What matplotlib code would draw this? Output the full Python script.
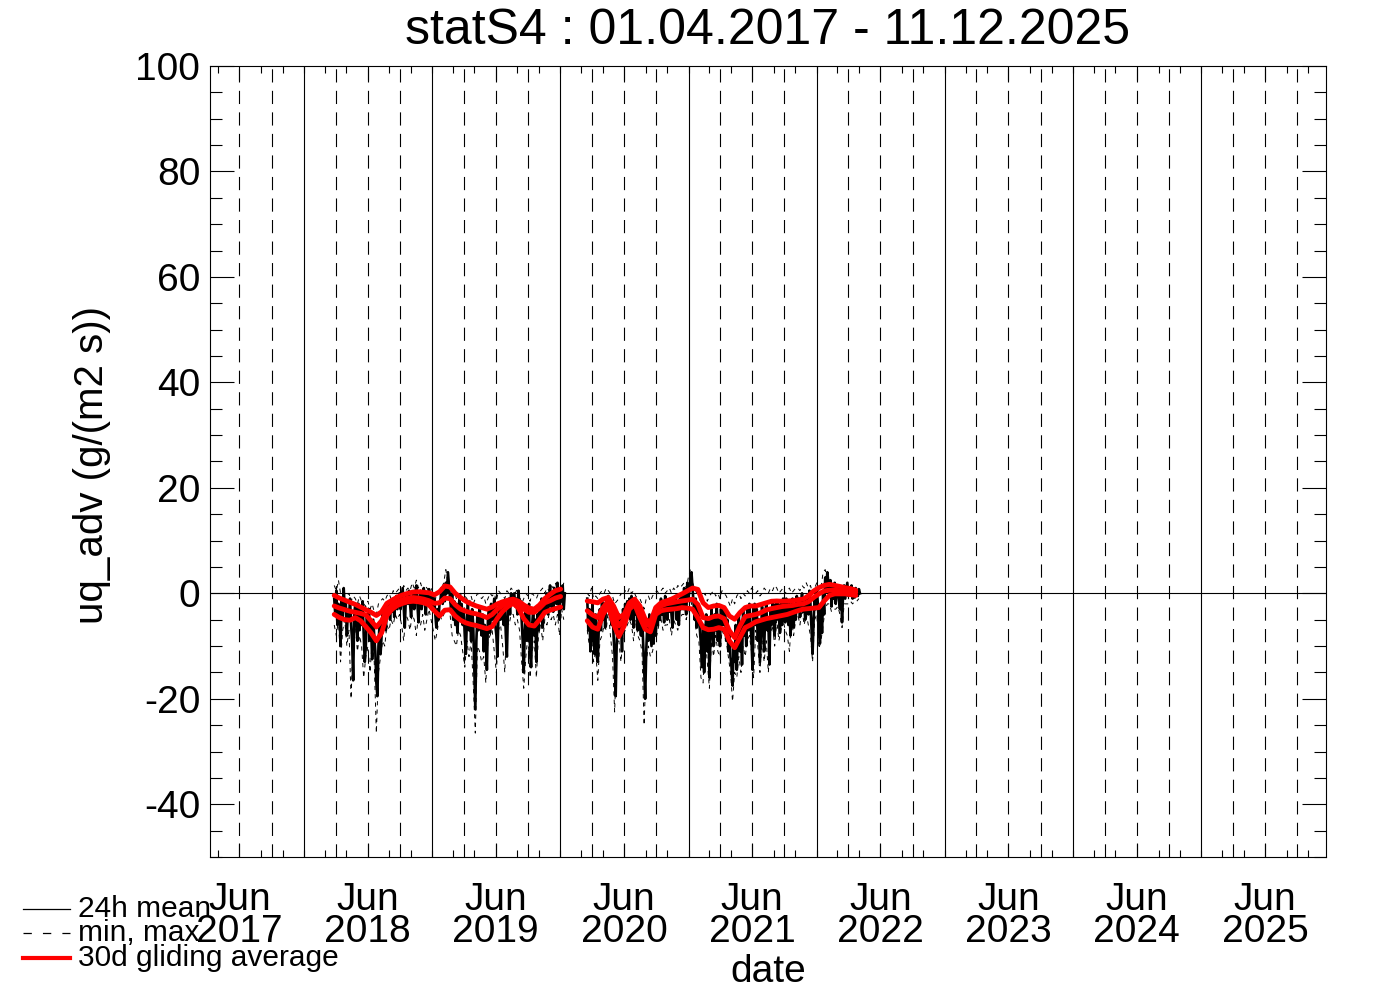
import matplotlib
matplotlib.use("Agg")
import matplotlib.pyplot as plt
import matplotlib.dates as mdates
from matplotlib.lines import Line2D
from matplotlib.ticker import MultipleLocator
import pandas as pd

plt.rcParams["font.family"] = ["Liberation Sans", "DejaVu Sans"]
plt.rcParams["lines.scale_dashes"] = False
plt.rcParams["axes.unicode_minus"] = False

W, H = 1388, 992

TITLE = "statS4 : 01.04.2017 - 11.12.2025"
YLABEL = "uq_adv (g/(m2 s))"

# two measurement periods
SEG1_START = "2018-03-28"
SEG2_START = "2020-03-18"
MEAN_STEP = "3D"     # spacing of the 24h mean values
MINMAX_STEP = "6D"
RED_STEP = "15D"

# 24h mean, period 1 (Apr 2018 - Jan 2020)
mean1 = [
    -1, -4, 0.5, -6, -2, -3, -10, -1.5, -5, 1, -3,
    -2, -8, -3, -5, -1, -6, -9, -16.5, -4, -2,
    -5, -9, -2, -7, -3, -6, -1.5, -8, -13, -10,
    -4, -7, -3, -9, -6, -12.5, -5, -8, -11, -17,
    -19.5, -10, -6, -11.5, -8, -4, -6, -3, -7, -2.5,
    -4, -1.5, -5, -2, -3.5, -1, -4.5, -2, -0.5, -3,
    -1.5, 0, -3, -1, 1, -2.5, -6.5, -1, -0.5, -2,
    0.5, -2, -4.5, -1, 0, -3, -0.5, 1.5, -2, -5.5,
    -1, 0.5, -3, -1.5, 1, -0.5, -4, 0, -2, 0.8,
    -1, -3, 0, -2.5, -1, -4, -6.5, -3, -5, -2,
    -1, 1, -2, 0.5, -1.5, 2, 0, 4, 1.5, -1,
    -3, 0, -5, -1.5, -6, -2, -7.5, -3, -1, -4.5,
    -2, -6, -3.5, -8, -11.5, -5, -2, -7, -4, -9,
    -3, -6, -14, -22, -9, -4, -7, -2.5, -5, -8,
    -4, -11, -6, -9, -14.5, -5, -3, -7.5, -2, -5,
    -3.5, -1, -6, -8, -12, -4, -2, -5, -1.5, -3,
    -6, -2.5, -8, -12, -3, -1, -4, 0, -2, -1,
    0, -2.5, -1, -4, 0.5, -3, -1.5, -5, -9, -15,
    -7, -3, -9, -5, -2, -11, -14, -6, -3, -8,
    -5, -13, -4, -7, -2, -5, -1, -6.5, -3, -1.5,
    -3, 0, -4, -1, 1.5, -2.5, 0, -3.5, 1, -1,
    -2, 2, -1, -5, 0.5, -1.5, 1.5, -3, 0,
]
min1 = [
    -6, -8, -5, -13, -7,
    -5, -10, -7, -20, -8,
    -6, -11, -8, -10, -16,
    -12, -10, -15, -9, -13,
    -26.5, -15, -12, -9, -10,
    -6, -7, -5, -6, -4,
    -5, -4, -6, -9, -4,
    -5, -7, -4, -5, -8,
    -4, -6, -4, -7, -5,
    -3, -5, -7, -9, -7,
    -4, -5, -4, -3, -3,
    -4, -8, -9, -10, -7,
    -8, -11, -14, -9, -12,
    -9, -17, -26.5, -10, -11,
    -13, -12, -17, -9, -8,
    -7, -11, -15, -7, -6,
    -10, -15, -5, -6, -4,
    -4, -6, -5, -7, -13,
    -18, -12, -8, -16, -11,
    -9, -16, -8, -6, -9,
    -5, -6, -4, -5, -4,
    -6, -4, -8, -3, -5,
]
max1 = [
    1.5, 0.5, 2.5, 0, 0.5,
    0, -0.5, 0, -1.5, -0.5,
    -1, -2, -0.5, -1.5, -2,
    -2.5, -1.5, -3, -2, -3.5,
    -4, -2, -1.5, -1, -1.5,
    -0.5, 0, -1, 0.5, 0,
    0.5, 1, 0, 1.5, 0.5,
    1, 0.5, 2, 1, 2.5,
    1, 2, 0.5, 1.5, 1,
    0.5, 1, 0, -1, -0.5,
    0.5, 1, 2, 4.5, 2,
    1, 0, 0.5, -1, -0.5,
    0, -1.5, -0.5, -1, -2,
    -0.5, -2, -1, 0, -0.5,
    -1, -0.5, -2, -1, 0,
    -0.5, 0, -1.5, 0.5, 0,
    -0.5, -1, 0.5, 0, 1,
    0.5, 0, 1, -0.5, -2,
    -1, 0, -0.5, -1.5, 0,
    -0.5, -1, 0, 0.5, 1,
    0, 1, 0.5, 1.5, 1,
    2, 0.5, 1, 0, 2,
]
# 30d gliding averages (upper / middle / lower), period 1
red_up1 = [-0.4, -0.9, -1.3, -1.7, -2.1, -2.6, -3.1, -3.6, -4.2, -3.5, -1.9,
           -1.3, -0.7, -0.3, 0.0, 0.25, 0.3, 0.2, 0.1, -0.3, 0.3, 1.4, 1.2,
           0.0, -0.8, -1.5, -2.0, -2.4, -2.7, -3.0, -2.6, -2.0, -1.6, -1.3,
           -1.1, -1.5, -2.2, -2.8, -3.0, -2.2, -1.0, -0.2, 0.5, 0.8]
red_mid1 = [-2.4, -2.8, -3.1, -3.4, -3.6, -3.8, -4.1, -5.2, -6.4, -5.2, -3.2,
            -2.2, -1.6, -1.2, -0.9, -0.8, -0.9, -1.1, -1.4, -1.9, -1.8, -0.9,
            -1.0, -2.2, -3.0, -3.4, -3.7, -3.9, -4.2, -4.6, -4.0, -3.0, -2.3,
            -1.7, -1.5, -2.0, -3.0, -3.6, -3.6, -2.8, -1.8, -1.4, -0.9, -0.6]
red_lo1 = [-4.0, -4.6, -5.0, -5.1, -4.6, -5.2, -6.3, -7.5, -9.0, -7.5, -4.2,
           -3.0, -2.3, -1.9, -1.6, -1.5, -1.6, -1.8, -2.2, -3.3, -4.3, -3.2,
           -3.1, -4.3, -5.1, -5.6, -5.9, -6.1, -6.4, -6.7, -6.3, -4.7, -3.4,
           -2.5, -1.9, -2.8, -4.8, -6.0, -6.2, -5.0, -3.6, -3.2, -2.9, -2.6]

# 24h mean, period 2 (Mar 2020 - May 2022)
mean2 = [
    -1, -7, -3, -11, -5, -2, -9, -11.5, -4, -8,
    -13, -6, -3, -7, -1.5, -5, -2, -6.5, -1, -3,
    -0.5, -4, -2, -6, -3, -8, -12, -19.5, -9, -6,
    -4, -8, -5, -11, -3, -6, -2, -5, -1.5, -4,
    -1, -5, -0.5, -3, -6.5, -1, -4, -2, -7, -3,
    -5, -8, -3, -9, -14, -20, -11, -6, -9, -4,
    -7, -10, -5, -9.5, -3, -8, -4, -6, -2, -5,
    -1, -4, -2, -5.5, -0.5, -3, -5, -1.5, -3.5, -1,
    -4, -6.5, -1.5, -3, -0.5, -5, -2, -6, -1, -3,
    0, -3, 1, -2.5, -4, 2, -1, 0.5, 3, 4,
    1, -2, -5, -1, -6.5, -3, -4, -7, -10, -14,
    -6, -15, -8, -4, -11, -5, -16, -9, -3, -7,
    -10, -4, -7, -2, -9, -5, -10, -3, -6, -2.5,
    -6, -3, -9, -5, -11, -7, -12, -14, -17.5, -10,
    -13, -6, -14.5, -8, -4, -11, -6, -13.5, -3, -8,
    -5, -10, -3, -7, -2, -6, -9, -14.5, -4, -2,
    -6, -3, -9, -5, -13, -8, -2.5, -6, -11, -4,
    -2, -7, -5, -13.5, -3, -6, -1.5, -4, -8, -2,
    -5, -1.5, -4, -7.5, -2, -6, -1, -3.5, -5.5, -1,
    -3, -6, -2, -8, -4, -1, -6.5, -2, -5, -0.5,
    -3, -1, -4.5, -2, 0, -3.5, -1.5, -5, -0.5, -2,
    -4, 0.5, -2, -7, -11.5, -5, -1, -3, 1, -2,
    -6, -9.5, -3, -7.5, 0, -4, 3, 1, 4, 2,
    0, 2.5, -2.5, 1, -1, 2, -2, 0.5, 1.5, -1,
    -3, 1, -5.5, 0, 1.5, -1, 0.5, 2, -0.5, 1,
    0, 1.5, -1, 0.5, -0.8, 1, 0, -0.5, 0.8, 0,
]
min2 = [
    -7, -10, -8, -13, -11,
    -16.5, -9, -8, -6, -7,
    -3, -8, -12, -22.5, -10,
    -9, -13, -8, -7, -6,
    -5, -6, -9, -5, -8,
    -9, -11, -25, -13, -10,
    -12, -11, -9, -8, -6,
    -5, -7, -6, -6, -5,
    -8, -5, -6, -7, -5,
    -4, -4, -5, -3, -1,
    -3, -5, -8, -9, -16,
    -17, -8, -13, -18, -9,
    -12, -8, -11, -12, -7,
    -8, -9, -12, -15, -20.5,
    -15, -16, -12, -15, -10,
    -12, -9, -8, -11, -16,
    -7, -10, -15, -9, -13,
    -9, -15, -8, -6, -10,
    -5, -9, -7, -5, -7,
    -8, -11, -5, -8, -5,
    -4, -6, -3, -6, -4,
    -6, -8, -13, -5, -4,
    -10.5, -9, -6, -3, -2,
    -2, -3.5, -3, -3, -2.5,
    -4, -6.5, -2, -2, -2,
    -1.5, -2, -1.5, -1.5, -1,
]
max2 = [
    0, -0.5, 1, -1, -0.5,
    -1, 0, 0.5, 0, 1,
    0.5, 0, -0.5, -2, -1.5,
    -1, 0, -0.5, 0.5, 0,
    1, 0, 0.5, -0.5, -1,
    -1, -2, -3, -1, -0.5,
    -1.5, -0.5, 0, 0.5, 0,
    0.5, 1, 0, 0.5, 1,
    0, 1, 0.5, 1.5, 1,
    1.5, 2, 1, 3, 4.5,
    2, 1, 0, -0.5, -2,
    -1, 0, -1.5, -0.5, 0,
    0.5, -0.5, 0, -1, 0.5,
    0, -0.5, -1.5, -2.5, -1,
    -2, -0.5, 0, -1, 0,
    -0.5, 0.5, 0, 1, 0.5,
    0, 0.5, -0.5, 0, 1,
    0.5, 0, 1, 0.5, 1.5,
    1, 0, 0.5, 1, 0,
    0.5, 1, 0, 0.5, 1,
    1, 0.5, 1.5, 1, 2,
    1, 1.5, 0, 1, 2,
    0.5, 1, 4, 4.5, 2.5,
    2, 1.5, 2, 1, 1.5,
    1, 0.5, 1.5, 1, 0.5,
    1, 0.5, 1, 0.5, 0.5,
]
red_up2 = [-1.45, -1.6, -1.8, -1.1, -0.8, -2.4, -4.6, -4.0, -1.8, -1.1, -2.4,
           -4.9, -5.5, -2.7, -1.8, -1.45, -1.1, -0.6, -0.1, 0.44, 1.0, 0.75,
           -1.8, -2.7, -2.4, -2.3, -2.7, -4.3, -4.9, -3.65, -2.7, -2.4, -2.4,
           -2.1, -1.8, -1.5, -1.45, -1.5, -1.45, -1.4, -1.25, -1.1, -0.5, 0.44,
           1.07, 1.5, 1.7, 1.5, 1.3, 1.07, 0.9, 0.6]
red_mid2 = [-3.3, -4.1, -4.6, -2.7, -1.45, -4.0, -6.2, -4.9, -2.4, -1.45, -3.65,
            -5.85, -6.2, -3.0, -2.4, -2.0, -1.8, -1.6, -1.45, -1.3, -1.1, -2.1,
            -4.6, -4.8, -4.4, -4.3, -4.8, -7.1, -8.4, -6.2, -4.4, -4.2, -4.0,
            -3.65, -3.15, -2.9, -2.7, -2.5, -2.4, -2.3, -2.1, -2.0, -1.6, -0.8,
            -0.1, 0.44, 0.6, 0.6, 0.5, 0.44, 0.3, 0.2]
red_lo2 = [-5.2, -6.4, -6.8, -4.0, -2.4, -5.85, -8.2, -6.2, -3.0, -2.1, -4.6,
           -6.8, -7.3, -4.0, -3.3, -3.1, -3.0, -2.9, -2.7, -2.8, -3.0, -4.6,
           -6.5, -6.9, -6.8, -6.5, -6.8, -9.0, -10.3, -8.4, -6.5, -6.0, -5.4,
           -5.1, -4.8, -4.6, -4.4, -4.2, -4.0, -3.65, -3.3, -3.0, -2.9, -2.8,
           -2.7, -1.45, -0.4, -0.1, -0.1, -0.1, -0.25, -0.4]

YEARS = list(range(2017, 2026))
X_START = "2017-04-08"
X_END = "2025-12-22"


def dates(start, values, step):
    return pd.date_range(start, periods=len(values), freq=step)


def fx(px):
    return px / W


def fy(py):
    return 1 - py / H


fig = plt.figure(figsize=(W / 100, H / 100), dpi=100)
ax = fig.add_axes([fx(210), fy(857), fx(1326) - fx(210), fy(66) - fy(857)])

x0, x1 = pd.Timestamp(X_START), pd.Timestamp(X_END)
ax.set_xlim(x0, x1)
ax.set_ylim(-50, 100)

# year lines solid, quarter lines dashed
for y in YEARS:
    for m in (1, 4, 7, 10):
        d = pd.Timestamp(year=y, month=m, day=1)
        if not (x0 < d < x1):
            continue
        if m == 1:
            ax.axvline(d, color="black", lw=0.8, zorder=1)
        else:
            ax.axvline(d, color="black", lw=0.8, ls=(0, (9.5, 6)), zorder=1)
ax.axhline(0, color="black", lw=0.8, zorder=1)

for start, mean, mn, mx, up, mid, lo in [
    (SEG1_START, mean1, min1, max1, red_up1, red_mid1, red_lo1),
    (SEG2_START, mean2, min2, max2, red_up2, red_mid2, red_lo2),
]:
    for s in (mn, mx):
        ax.plot(dates(start, s, MINMAX_STEP), s, color="black", lw=0.7,
                ls=(0, (3, 3)), zorder=2)
    ax.plot(dates(start, mean, MEAN_STEP), mean, color="black", lw=1.9, zorder=3)
    for s in (up, mid, lo):
        ax.plot(dates(start, s, RED_STEP), s, color="red", lw=3.5,
                solid_capstyle="round", solid_joinstyle="round", zorder=4)

ax.set_xticks([pd.Timestamp(year=y, month=7, day=1) for y in YEARS])
ax.set_xticklabels([f"Jun\n{y}" for y in YEARS], linespacing=0.85)
ax.xaxis.set_minor_locator(mdates.MonthLocator(bymonth=[1, 3, 5, 7, 9, 11]))
ax.set_yticks(range(-40, 101, 20))
ax.yaxis.set_minor_locator(MultipleLocator(5))

ax.tick_params(axis="x", which="major", direction="in", length=10, width=0.8,
               top=True, labelsize=28, pad=18)
ax.tick_params(axis="x", which="minor", direction="in", length=5, width=0.8,
               top=True)
ax.tick_params(axis="y", which="major", direction="in", length=17, width=0.8,
               right=True, labelsize=28, pad=7)
ax.tick_params(axis="y", which="minor", direction="in", length=8.6, width=0.8,
               right=True)
for sp in ax.spines.values():
    sp.set_linewidth(0.8)

fig.text(fx(768), fy(31), TITLE, ha="center", va="center", fontsize=36)
fig.text(fx(92), fy(465), YLABEL, ha="center", va="center", rotation=90,
         fontsize=29)
fig.text(fx(768), fy(972), "date", ha="center", va="center", fontsize=28)

# legend in the lower left corner
fig.add_artist(Line2D([fx(23), fx(70)], [fy(909)] * 2, color="black", lw=0.9))
fig.add_artist(Line2D([fx(23), fx(70)], [fy(933)] * 2, color="black", lw=0.9,
                      ls=(0, (6, 8))))
fig.add_artist(Line2D([fx(23), fx(70)], [fy(958)] * 2, color="red", lw=3))
for yy, lab in [(909, "24h mean"), (933, "min, max"), (958, "30d gliding average")]:
    fig.text(fx(78), fy(yy), lab, ha="left", va="center", fontsize=21.5)

fig.savefig("out.png", dpi=100)
